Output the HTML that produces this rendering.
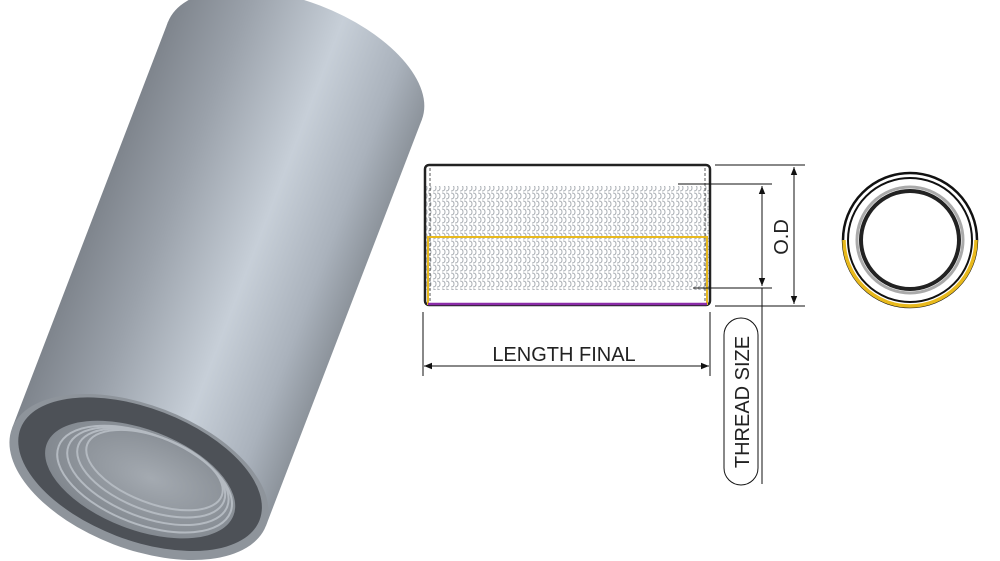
<!DOCTYPE html>
<html><head><meta charset="utf-8"><style>
html,body{margin:0;padding:0;background:#fff;width:1000px;height:561px;overflow:hidden}
svg{display:block;overflow:hidden}
text{font-family:"Liberation Sans",sans-serif;fill:#222}
</style></head><body>
<svg width="1000" height="561" viewBox="0 0 1000 561">
<defs>
<linearGradient id="body" x1="-135" x2="135" y1="0" y2="0" gradientUnits="userSpaceOnUse">
<stop offset="0" stop-color="#7f858d"/>
<stop offset="0.25" stop-color="#9aa1aa"/>
<stop offset="0.6" stop-color="#c7cfd8"/>
<stop offset="0.85" stop-color="#aab2bc"/>
<stop offset="1" stop-color="#8d949c"/>
</linearGradient>
<radialGradient id="thr" cx="0.55" cy="0.45" r="0.6">
<stop offset="0" stop-color="#a4aab1"/>
<stop offset="1" stop-color="#80868d"/>
</radialGradient>
<pattern id="hatch" width="9" height="8" patternUnits="userSpaceOnUse">
<path d="M1 1 q3 0 3 3 q0 3 -3 3 M5 1 q3 0 3 3 q0 3 -3 3" stroke="#a9aeb4" stroke-width="1" fill="none"/>
</pattern>
<marker id="ar" viewBox="0 0 10 10" refX="10" refY="5" markerWidth="10" markerHeight="8" orient="auto-start-reverse" markerUnits="userSpaceOnUse">
<path d="M0 1 L10 5 L0 9z" fill="#111"/></marker>
</defs>

<!-- 3D cylinder -->
<g transform="translate(139,477) rotate(21)">
<ellipse cx="0" cy="-435" rx="136" ry="70" fill="url(#body)"/>
<rect x="-136" y="-435" width="272" height="435" fill="url(#body)"/>
<ellipse cx="0" cy="0" rx="136" ry="72" fill="#8e949b"/>
<ellipse cx="0" cy="-3" rx="128" ry="66" fill="#4d5157"/>
<ellipse cx="2" cy="2" rx="100" ry="50" fill="url(#thr)"/>
<g fill="none" stroke="#b4bac1" stroke-width="2">
<ellipse cx="6" cy="0" rx="92" ry="45"/>
<ellipse cx="8" cy="-4" rx="85" ry="41"/>
<ellipse cx="10" cy="-8" rx="78" ry="37"/>
<ellipse cx="12" cy="-12" rx="72" ry="33"/>
</g>
</g>

<!-- side view -->
<rect x="425" y="186" width="285" height="104" fill="url(#hatch)"/>
<rect x="425" y="165" width="285" height="140" rx="4" fill="none" stroke="#222" stroke-width="2.5"/>
<line x1="430" y1="168" x2="430" y2="302" stroke="#555" stroke-width="1" stroke-dasharray="3,2"/>
<line x1="705" y1="168" x2="705" y2="302" stroke="#555" stroke-width="1" stroke-dasharray="3,2"/>
<rect x="428" y="237" width="279" height="67" fill="none" stroke="#e8b91c" stroke-width="2"/>
<line x1="428" y1="304" x2="707" y2="304" stroke="#8b2ca8" stroke-width="2.5"/>

<!-- dims -->
<g stroke="#111" stroke-width="1" fill="none">
<line x1="715" y1="165" x2="805" y2="165"/>
<line x1="715" y1="306" x2="805" y2="306"/>
<line x1="794" y1="167" x2="794" y2="304" marker-start="url(#ar)" marker-end="url(#ar)"/>
<line x1="678" y1="184" x2="772" y2="184"/>
<line x1="693" y1="288" x2="772" y2="288"/>
<line x1="762" y1="186" x2="762" y2="286" marker-start="url(#ar)" marker-end="url(#ar)"/>
<line x1="762" y1="288" x2="762" y2="484"/>
<line x1="423" y1="312" x2="423" y2="376"/>
<line x1="710" y1="312" x2="710" y2="376"/>
<line x1="424" y1="366" x2="709" y2="366" marker-start="url(#ar)" marker-end="url(#ar)"/>
<rect x="724" y="318" width="34" height="167" rx="17"/>
</g>
<text x="564" y="361" font-size="20" text-anchor="middle">LENGTH FINAL</text>
<text transform="translate(788,237) rotate(-90)" font-size="20" text-anchor="middle">O.D</text>
<text transform="translate(749,402) rotate(-90)" font-size="20" text-anchor="middle">THREAD SIZE</text>

<!-- end view -->
<g fill="none">
<circle cx="910" cy="240" r="67" stroke="#111" stroke-width="2.5"/>
<path d="M844 240 A66 66 0 0 0 976 240" stroke="#e8b91c" stroke-width="3.5"/>
<circle cx="910" cy="240" r="62" stroke="#111" stroke-width="2"/>
<circle cx="910" cy="240" r="53" stroke="#aaa" stroke-width="3"/>
<circle cx="910" cy="240" r="49" stroke="#222" stroke-width="4"/>
</g>
</svg>
</body></html>
